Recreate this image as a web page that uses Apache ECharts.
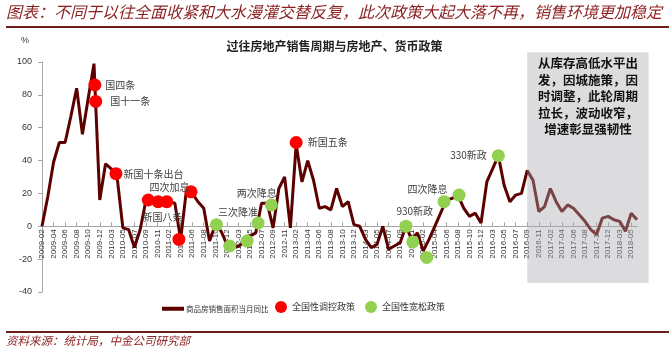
<!DOCTYPE html>
<html>
<head>
<meta charset="utf-8">
<title>过往房地产销售周期与房地产、货币政策</title>
<script src="https://cdn.jsdelivr.net/npm/echarts@6/dist/echarts.min.js"></script>
<style>
html, body { margin: 0; padding: 0; background: #fff; }
#chart { width: 669px; height: 353px; }
</style>
</head>
<body>
<div id="chart"></div>
<script>
// months (Jan is merged into Feb in the stats, so it is skipped)
const months = [
  '2009-02', '2009-03', '2009-04', '2009-05', '2009-06', '2009-07', '2009-08', '2009-09', '2009-10', '2009-11', '2009-12',
  '2010-02', '2010-03', '2010-04', '2010-05', '2010-06', '2010-07', '2010-08', '2010-09', '2010-10', '2010-11', '2010-12',
  '2011-02', '2011-03', '2011-04', '2011-05', '2011-06', '2011-07', '2011-08', '2011-09', '2011-10', '2011-11', '2011-12',
  '2012-02', '2012-03', '2012-04', '2012-05', '2012-06', '2012-07', '2012-08', '2012-09', '2012-10', '2012-11', '2012-12',
  '2013-02', '2013-03', '2013-04', '2013-05', '2013-06', '2013-07', '2013-08', '2013-09', '2013-10', '2013-11', '2013-12',
  '2014-02', '2014-03', '2014-04', '2014-05', '2014-06', '2014-07', '2014-08', '2014-09', '2014-10', '2014-11', '2014-12',
  '2015-02', '2015-03', '2015-04', '2015-05', '2015-06', '2015-07', '2015-08', '2015-09', '2015-10', '2015-11', '2015-12',
  '2016-02', '2016-03', '2016-04', '2016-05', '2016-06', '2016-07', '2016-08', '2016-09', '2016-10', '2016-11', '2016-12',
  '2017-02', '2017-03', '2017-04', '2017-05', '2017-06', '2017-07', '2017-08', '2017-09', '2017-10', '2017-11', '2017-12',
  '2018-02', '2018-03', '2018-04', '2018-05', '2018-06'
]

// 商品房销售面积当月同比 (%)
const salesYoY = [
  0, 18, 39, 51, 51, 67, 84, 56, 78, 99, 16,
  38, 35, 30, -1, -2, -13, -2, 16, 15, 14, 15,
  15, 14, -8, 22, 20, 15, 11, -9, 1, -3, -11,
  -13, -12, -10, -6, -4, 14, 14, -1, 23, 30, -1,
  50, 27, 40, 28, 11, 12, 10, 23, 12, 15, 1,
  0, -8, -13, -11, 0, -14, -12, -10, 0, -8, -4,
  -15, -8, 0, 8, 16, 17, 19, 11, 6, 8, 2,
  27, 35, 43, 25, 15, 19, 20, 34, 28, 9, 12,
  23, 15, 9, 13, 11, 7, 3, -2, -5, 5, 6,
  4, 3, -3, 8, 4
]

// 全国性调控政策 (position on the month index, value)
const tightenX = [9.15, 9.3, 12.8, 18.4, 20.1, 21.6, 23.7, 25.8, 44]
const tightenY = [86, 76, 32, 16, 15, 15, -8, 21, 51]
const tightenNames = ['国四条', '国十一条', '新国十条出台', '', '四次加息', '', '新国八条', '', '新国五条']

// 全国性宽松政策
const easeX = [30.2, 32.5, 35.5, 37.4, 39.7, 63, 64.2, 66.6, 69.6, 72.2, 79]
const easeY = [1, -12, -9, 2, 13, 0, -9.5, -19, 15, 19, 43]
const easeNames = ['三次降准', '', '', '', '两次降息', '930新政', '', '', '四次降息', '', '330新政']

const yTicks = [-40, -20, 0, 20, 40, 60, 80, 100]

const boxLines = ['从库存高低水平出', '发，因城施策，因', '时调整，此轮周期', '拉长，波动收窄，', '增速彰显强韧性']

// label placement for the annotated dots
const labelPlace = {
  '国四条': ['right', [-1, 0]],
  '国十一条': ['right', [3, 0]],
  '新国十条出台': ['right', [-4, 0]],
  '四次加息': ['right', [-20, -14]],
  '新国八条': ['left', [15, -22]],
  '新国五条': ['right', [0, 0]],
  '三次降准': ['right', [-10, -12]],
  '两次降息': ['right', [-46, -12]],
  '930新政': ['right', [-21, -15]],
  '四次降息': ['right', [-48, -12]],
  '330新政': ['left', [0, 0]]
}

const cjk = '"Noto Sans CJK SC", sans-serif'
const latin = '"Liberation Sans", "Noto Sans CJK SC", sans-serif'

const gridTop = 62
const gridBottom = 61
const plotH = 353 - gridTop - gridBottom
// x axis sits on the zero line: shift it up from the grid bottom
const zeroShift = -plotH * (0 - yTicks[0]) / (yTicks[yTicks.length - 1] - yTicks[0])

function dots (xs, ys, names) {
  return xs.map((x, i) => {
    const item = { value: [x, ys[i]] }
    const n = names[i]
    if (n) {
      item.label = {
        show: true,
        formatter: n,
        position: labelPlace[n][0],
        offset: labelPlace[n][1]
      }
    }
    return item
  })
}

const chart = echarts.init(document.getElementById('chart'))

chart.setOption({
  animation: false,
  backgroundColor: '#fff',
  title: {
    text: '过往房地产销售周期与房地产、货币政策',
    left: 'center',
    top: 35,
    textStyle: { fontSize: 12, fontWeight: 'bold', color: '#222', fontFamily: cjk }
  },
  grid: { left: 42, right: 32, top: gridTop, bottom: gridBottom, containLabel: false },
  legend: [{
    data: [{ name: '商品房销售面积当月同比', icon: 'rect' }],
    left: 157,
    top: 300,
    itemWidth: 22,
    itemHeight: 4,
    itemGap: 4,
    textStyle: { fontSize: 7.5, color: '#333', fontFamily: cjk, padding: [0, 0, 0, -3] }
  }, {
    data: ['全国性调控政策', '全国性宽松政策'],
    left: 270,
    top: 296,
    itemWidth: 12,
    itemHeight: 12,
    itemGap: 10,
    textStyle: { fontSize: 9, color: '#333', fontFamily: cjk }
  }],
  xAxis: {
    type: 'value',
    min: 0,
    max: months.length - 1,
    interval: 2,
    position: 'bottom',
    offset: zeroShift,
    splitLine: { show: false },
    axisLine: { onZero: false, lineStyle: { color: '#a6a6a6', width: 1 } },
    axisTick: { show: true, inside: true, length: 4, lineStyle: { color: '#a6a6a6' } },
    axisLabel: {
      rotate: 90,
      fontSize: 8,
      color: '#333',
      margin: 3,
      fontFamily: latin,
      showMaxLabel: false,
      formatter: v => (v % 2 === 0 && months[v]) ? months[v] : ''
    }
  },
  yAxis: {
    type: 'value',
    min: yTicks[0],
    max: yTicks[yTicks.length - 1],
    interval: 20,
    splitLine: { show: false },
    axisLine: { show: true, lineStyle: { color: '#a6a6a6' } },
    axisTick: { show: true, length: 4, lineStyle: { color: '#a6a6a6' } },
    axisLabel: { fontSize: 9, color: '#333', margin: 10, fontFamily: latin }
  },
  series: [{
    name: '商品房销售面积当月同比',
    type: 'line',
    data: salesYoY.map((v, i) => [i, v]),
    symbol: 'none',
    lineStyle: { color: '#5c0000', width: 3 },
    itemStyle: { color: '#5c0000' },
    z: 2
  }, {
    name: '全国性调控政策',
    type: 'scatter',
    data: dots(tightenX, tightenY, tightenNames),
    symbolSize: 13,
    itemStyle: { color: '#ff0000', opacity: 1 },
    label: { color: '#404040', fontSize: 10, fontFamily: cjk },
    z: 3
  }, {
    name: '全国性宽松政策',
    type: 'scatter',
    data: dots(easeX, easeY, easeNames),
    symbolSize: 13,
    itemStyle: { color: '#92d050', opacity: 1 },
    label: { color: '#404040', fontSize: 10, fontFamily: cjk },
    z: 3
  }]
})

// grey comment box over the latest cycle, placed through the axes
const tl = chart.convertToPixel({ gridIndex: 0 }, [84, 106])
const br = chart.convertToPixel({ gridIndex: 0 }, [105, -34.5])
const boxW = br[0] - tl[0]

chart.setOption({
  graphic: [
    {
      type: 'text',
      left: 6,
      top: 4,
      style: {
        text: '图表：不同于以往全面收紧和大水漫灌交替反复，此次政策大起大落不再，销售环境更加稳定',
        font: 'italic 16px "Noto Sans CJK SC"',
        fill: '#8b1f1f'
      }
    },
    { type: 'rect', shape: { x: 6, y: 26, width: 663, height: 2 }, style: { fill: '#6e1d1d' } },
    { type: 'rect', shape: { x: 6, y: 331, width: 663, height: 2 }, style: { fill: '#6e1d1d' } },
    {
      type: 'text',
      left: 6,
      top: 335,
      style: {
        text: '资料来源：统计局，中金公司研究部',
        font: 'italic 11.5px "Noto Sans CJK SC"',
        fill: '#8b1f1f'
      }
    },
    {
      type: 'text',
      left: 21,
      top: 36,
      style: { text: '%', font: '9px "Liberation Sans"', fill: '#333' }
    },
    {
      type: 'rect',
      z: 10,
      shape: { x: tl[0], y: tl[1], width: boxW, height: br[1] - tl[1] },
      style: { fill: 'rgba(167,167,172,0.4)' }
    },
    {
      type: 'text',
      z: 11,
      style: {
        x: tl[0] + boxW / 2,
        y: tl[1] + 3,
        text: boxLines.join('\n'),
        align: 'center',
        font: 'bold 12.5px "Noto Sans CJK SC"',
        lineHeight: 16.5,
        fill: '#111'
      }
    }
  ]
})
</script>
</body>
</html>
